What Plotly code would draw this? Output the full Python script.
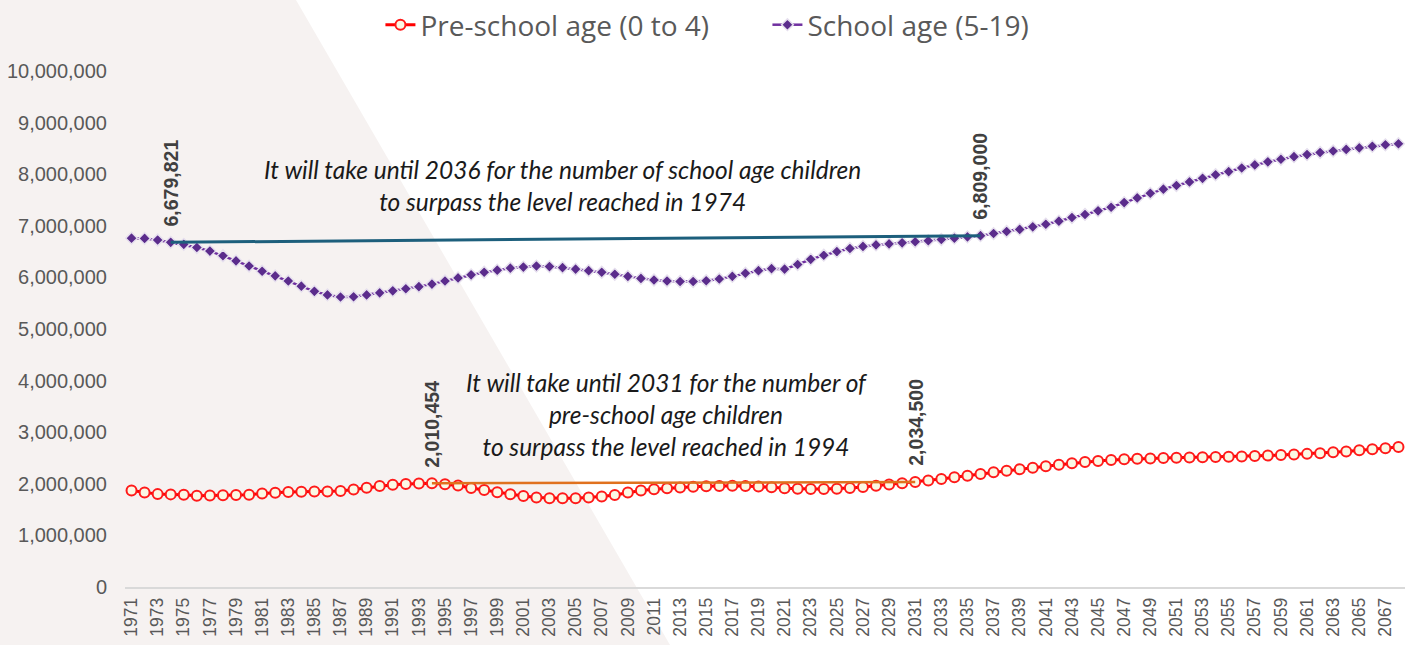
import plotly.graph_objects as go

# years on the category axis
YEARS = list(range(1971, 2069))

# population aged 0 to 4
PRE_SCHOOL = [
    1870000, 1830000, 1800000, 1795000, 1790000, 1770000, 1772000, 1778000, 1782000, 1790000,
    1810000, 1828000, 1840000, 1848000, 1852000, 1850000, 1862000, 1890000, 1925000, 1958000,
    1982000, 1998000, 2008000, 2010454, 1992000, 1965000, 1920000, 1878000, 1838000, 1798000,
    1762000, 1735000, 1720000, 1718000, 1722000, 1735000, 1755000, 1785000, 1830000, 1870000,
    1895000, 1915000, 1930000, 1942000, 1952000, 1958000, 1960000, 1955000, 1948000, 1932000,
    1915000, 1902000, 1898000, 1900000, 1905000, 1918000, 1938000, 1962000, 1988000, 2010000,
    2034500, 2062000, 2092000, 2125000, 2158000, 2190000, 2222000, 2252000, 2282000, 2312000,
    2342000, 2370000, 2398000, 2422000, 2444000, 2460000, 2474000, 2484000, 2492000, 2498000,
    2503000, 2508000, 2513000, 2518000, 2524000, 2530000, 2538000, 2547000, 2557000, 2568000,
    2580000, 2594000, 2610000, 2628000, 2648000, 2668000, 2690000, 2712000,
]

# population aged 5 to 19
SCHOOL = [
    6760000, 6755000, 6725000, 6679821, 6640000, 6580000, 6510000, 6420000, 6320000, 6220000,
    6120000, 6030000, 5930000, 5830000, 5730000, 5660000, 5620000, 5625000, 5660000, 5700000,
    5740000, 5780000, 5820000, 5870000, 5930000, 5990000, 6050000, 6100000, 6140000, 6180000,
    6200000, 6220000, 6210000, 6190000, 6160000, 6130000, 6100000, 6060000, 6020000, 5980000,
    5950000, 5930000, 5920000, 5920000, 5935000, 5970000, 6020000, 6080000, 6130000, 6170000,
    6160000, 6250000, 6350000, 6430000, 6500000, 6560000, 6600000, 6630000, 6650000, 6670000,
    6690000, 6710000, 6735000, 6760000, 6785000, 6809000, 6850000, 6890000, 6930000, 6980000,
    7030000, 7090000, 7160000, 7220000, 7290000, 7360000, 7450000, 7540000, 7630000, 7710000,
    7780000, 7850000, 7920000, 7990000, 8050000, 8120000, 8180000, 8240000, 8290000, 8340000,
    8380000, 8420000, 8450000, 8480000, 8510000, 8540000, 8570000, 8590000,
]

# years joined by the comparison lines
SCHOOL_PAIR = [1974, 2036]
PRE_SCHOOL_PAIR = [1994, 2031]

SCHOOL_NOTE = "It will take until 2036 for the number of school age children<br>to surpass the level reached in 1974"
PRE_SCHOOL_NOTE = ("It will take until 2031 for the number of<br>pre-school age children<br>"
                   "to surpass the level reached in 1994")

assert len(PRE_SCHOOL) == len(YEARS) == len(SCHOOL)

Y_TICK_FONT = dict(family="Liberation Sans, Arial", size=20, color="#595959")
X_TICK_FONT = dict(family="Liberation Sans, Arial", size=17.5, color="#595959")
NOTE_FONT = dict(family="Lato", size=24.5, color="#1a1a1a")


def pick(values, years):
    return [values[YEARS.index(y)] for y in years]


fig = go.Figure()

fig.add_trace(go.Scatter(
    x=YEARS, y=PRE_SCHOOL, name="Pre-school age (0 to 4)", mode="lines+markers",
    line=dict(color="#ff0000", width=3),
    marker=dict(symbol="circle", size=10, color="#fbf8e4", line=dict(color="#ff1a1a", width=2)),
))
fig.add_trace(go.Scatter(
    x=YEARS, y=SCHOOL, name="School age (5-19)", mode="lines+markers",
    line=dict(color="#7030a0", width=2.5),
    marker=dict(symbol="diamond", size=9, color="#5b2c8c", line=dict(color="#e6e0ee", width=1.5)),
))

# comparison lines between the two matching levels
fig.add_trace(go.Scatter(
    x=SCHOOL_PAIR, y=pick(SCHOOL, SCHOOL_PAIR), mode="lines", showlegend=False,
    line=dict(color="#1d5f7c", width=3), hoverinfo="skip",
))
fig.add_trace(go.Scatter(
    x=PRE_SCHOOL_PAIR, y=pick(PRE_SCHOOL, PRE_SCHOOL_PAIR), mode="lines", showlegend=False,
    line=dict(color="#e0711e", width=2.5), hoverinfo="skip",
))

for years, values in ((SCHOOL_PAIR, SCHOOL), (PRE_SCHOOL_PAIR, PRE_SCHOOL)):
    for y, v in zip(years, pick(values, years)):
        fig.add_annotation(
            x=y, y=v, text=f"<b>{v:,}</b>", showarrow=False, textangle=-90,
            xanchor="center", yanchor="bottom", yshift=14,
            font=dict(family="Liberation Sans, Arial", size=19.5, color="#404040"),
        )

fig.add_annotation(
    x=2004, y=7790000, text=f"<i>{SCHOOL_NOTE}</i>", showarrow=False,
    font=NOTE_FONT, align="center",
)
fig.add_annotation(
    x=2012, y=3340000, text=f"<i>{PRE_SCHOOL_NOTE}</i>", showarrow=False,
    font=NOTE_FONT, align="center",
)

# light diagonal panel behind the left of the chart
fig.add_shape(
    type="path", xref="paper", yref="paper", layer="below",
    path="M -0.0977 1.1376 L 0.1336 1.1376 L 0.4258 -0.1124 L -0.0977 -0.1124 Z",
    fillcolor="#f6f2f1", line=dict(width=0),
)

fig.update_layout(
    width=1409, height=645,
    margin=dict(l=125, r=4, t=71, b=58),
    paper_bgcolor="#ffffff", plot_bgcolor="rgba(0,0,0,0)",
    showlegend=True,
    legend=dict(
        orientation="h", xref="container", x=0.27, xanchor="left",
        yref="container", y=1.0, yanchor="top",
        font=dict(family="Open Sans", size=28, color="#595959"),
        bgcolor="rgba(0,0,0,0)", itemwidth=30, entrywidth=342,
    ),
    xaxis=dict(
        range=[1970.5, 2068.5], tickmode="array", tickvals=YEARS[::2],
        ticktext=[str(y) for y in YEARS[::2]], tickangle=-90, tickfont=X_TICK_FONT,
        showgrid=False, zeroline=False, showline=True, linecolor="#d9d9d9", linewidth=1.5,
        ticks="", ticklabelstandoff=2, automargin=False,
    ),
    yaxis=dict(
        range=[0, 10000000], dtick=1000000, tickformat=",", tickfont=Y_TICK_FONT,
        showgrid=False, zeroline=False, showline=False, ticks="", ticklabelstandoff=17,
        automargin=False,
    ),
)

fig.write_html("out.html", config={"displayModeBar": False},
               post_script="document.body.style.margin = '0px';")
